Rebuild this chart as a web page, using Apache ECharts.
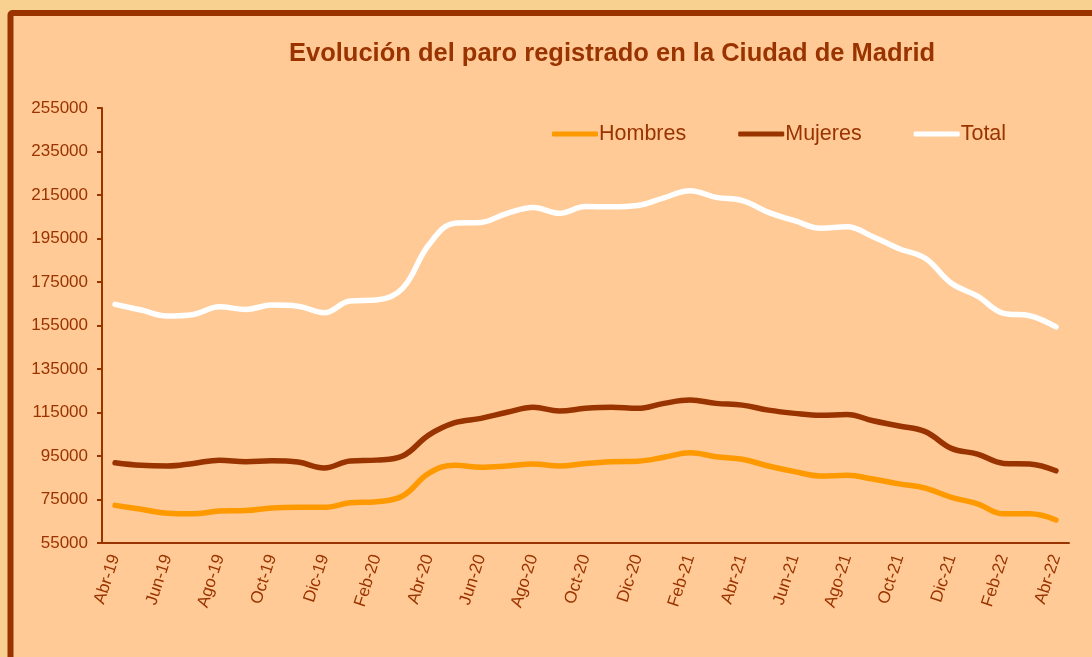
<!DOCTYPE html>
<html>
<head>
<meta charset="utf-8">
<script src="https://cdn.jsdelivr.net/npm/echarts@6/dist/echarts.min.js"></script>
<style>
html,body{margin:0;padding:0;background:#F8D08F;}
#chart{width:1092px;height:657px;}
</style>
</head>
<body>
<div id="chart"></div>
<script>
const categories = ["Abr-19","May-19","Jun-19","Jul-19","Ago-19","Sep-19","Oct-19","Nov-19","Dic-19","Ene-20","Feb-20","Mar-20",
"Abr-20","May-20","Jun-20","Jul-20","Ago-20","Sep-20","Oct-20","Nov-20","Dic-20","Ene-21","Feb-21","Mar-21",
"Abr-21","May-21","Jun-21","Jul-21","Ago-21","Sep-21","Oct-21","Nov-21","Dic-21","Ene-22","Feb-22","Mar-22","Abr-22"];
const hombres = [72300,70500,68700,68400,69700,69900,71100,71400,71400,73500,74000,76600,
87000,90800,89800,90400,91300,90400,91600,92400,92600,94400,96500,94700,
93500,90400,87800,85800,86100,84400,82200,80200,76000,73000,68400,68400,65600];
const mujeres = [91900,90700,90400,91600,93100,92400,92800,92200,89500,92700,93100,95000,
104600,110300,112300,115100,117400,115700,116900,117400,116900,119200,120700,119200,
118400,116100,114600,113700,114100,111200,108800,106200,98500,95900,91600,91300,88200];
const total = [164700,162100,159400,160100,163600,162400,164400,163900,160900,166300,166700,172100,
192000,202000,202400,206600,209300,206600,209700,209600,210200,213700,217000,213900,
212400,207000,203200,199700,200400,195800,190300,185900,174400,168500,160600,159500,154400];
const yTicks = {min:55000, max:255000, interval:20000};

const dark = '#993300';
const font = '"Liberation Sans", Arial, sans-serif';
const chart = echarts.init(document.getElementById('chart'), null, {renderer:'canvas'});
chart.setOption({
  backgroundColor:'#F8D08F',
  animation:false,
  graphic:[{
    type:'rect', z:-10, silent:true,
    shape:{x:10.5, y:13, width:1200, height:800, r:2},
    style:{fill:'#FFCA96', stroke:dark, lineWidth:6}
  }],
  title:{
    text:'Evolución del paro registrado en la Ciudad de Madrid',
    left:284, top:36,
    textStyle:{color:dark, fontFamily:font, fontWeight:'bold', fontSize:25.5}
  },
  legend:{
    top:118, left:547,
    itemWidth:46, itemHeight:5, itemGap:52,
    icon:'roundRect',
    textStyle:{color:dark, fontFamily:font, fontSize:21.5, padding:[0,0,0,-4]},
    data:['Hombres','Mujeres','Total']
  },
  grid:{left:102, right:23, top:108, bottom:114, containLabel:false},
  xAxis:{
    type:'category', data:categories, boundaryGap:true,
    axisLine:{lineStyle:{color:dark, width:2}},
    axisTick:{interval:1, length:5, lineStyle:{color:dark, width:2}},
    axisLabel:{interval:1, rotate:72, margin:12, color:dark, fontFamily:font, fontSize:17},
    splitLine:{show:false}
  },
  yAxis:{
    type:'value', min:yTicks.min, max:yTicks.max, interval:yTicks.interval,
    axisLine:{show:true, lineStyle:{color:dark, width:2}},
    axisTick:{show:true, length:5, lineStyle:{color:dark, width:2}},
    axisLabel:{margin:14, color:dark, fontFamily:font, fontSize:17, formatter:function(v){return String(v);}},
    splitLine:{show:false}
  },
  series:[
    {name:'Hombres', type:'line', data:hombres, smooth:0.4, symbol:'none', itemStyle:{color:'#FF9900'}, lineStyle:{color:'#FF9900', width:5.5, cap:'round'}},
    {name:'Mujeres', type:'line', data:mujeres, smooth:0.4, symbol:'none', itemStyle:{color:dark}, lineStyle:{color:dark, width:5.5, cap:'round'}},
    {name:'Total', type:'line', data:total, smooth:0.4, symbol:'none', itemStyle:{color:'#FFFFFF'}, lineStyle:{color:'#FFFFFF', width:5.5, cap:'round'}}
  ]
});
</script>
</body>
</html>
